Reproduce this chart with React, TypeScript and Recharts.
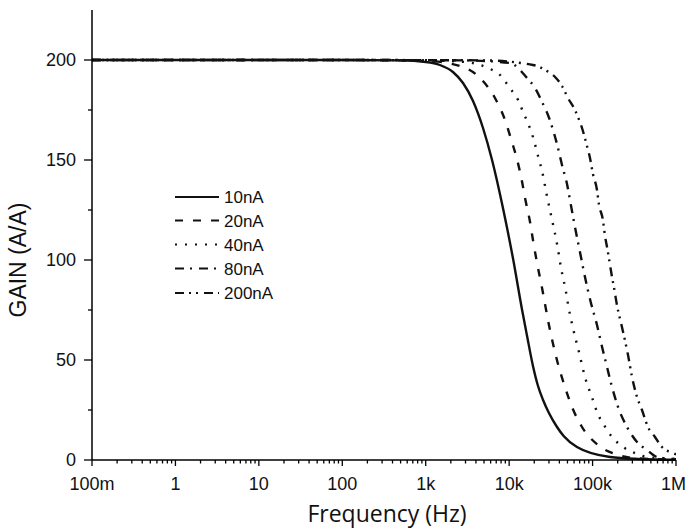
import { LineChart, Line, XAxis, YAxis } from 'recharts';

// frequency in Hz, gain in A/A
const freq10 = [0.1, 10, 100, 500, 1000, 1480, 2120, 2800, 3690, 4860, 6240, 8430, 11100, 14300, 16400, 19300, 22000, 25500, 30000, 37500, 45000, 65000, 162000, 372000, 1000000];
const gain10 = [200, 200, 200, 199.8, 199, 197.5, 194, 188.5, 179.5, 166, 150, 126, 101, 75, 62, 47, 37.5, 30, 23.5, 16.5, 12, 6.5, 1.5, 0.5, 0.1];

const freq20 = [0.1, 100, 1000, 2580, 4730, 6760, 8920, 10800, 12400, 14300, 15500, 17800, 19300, 21600, 24800, 26900, 29200, 33600, 38500, 46700, 56700, 74700, 116000, 202000, 305000, 1000000];
const gain20 = [200, 200, 199.6, 197, 190, 181, 170, 159, 150.5, 139, 131, 119, 110, 98.5, 86, 78, 70, 58, 48, 36.5, 26.5, 16.5, 7.5, 2.5, 1, 0.2];

const freq40 = [0.1, 100, 1000, 3000, 5580, 7770, 10200, 12800, 14700, 16800, 19300, 22200, 24800, 28400, 32700, 37500, 41900, 48000, 50700, 58200, 68700, 81100, 101000, 113000, 137000, 171000, 232000, 341000, 449000, 1000000];
const gain40 = [200, 200, 199.8, 199, 196, 192.5, 186, 180, 174, 168.5, 161.5, 152, 144.5, 132, 120, 108, 96, 84, 78, 66, 54, 41.5, 30, 24, 17.5, 11.5, 6.5, 3, 1.5, 0.5];

const freq80 = [0.1, 100, 3000, 10200, 16400, 20400, 24800, 29200, 33600, 38500, 43000, 49400, 53600, 61500, 70600, 81100, 95000, 113000, 130000, 149000, 171000, 202000, 259000, 341000, 449000, 592000, 920000, 1000000];
const gain80 = [200, 200, 199.8, 198.5, 191, 186, 179, 172.5, 165, 156, 147.5, 138, 130, 116.5, 104, 91.5, 79, 67.5, 56.5, 46.5, 36.5, 26.5, 16.5, 9, 5, 1.5, 0.5, 0.4];

const freq200 = [0.1, 100, 5000, 19300, 28400, 35500, 43000, 50700, 61500, 66800, 74700, 85700, 93100, 101000, 113000, 119000, 133000, 141000, 149000, 157000, 171000, 181000, 196000, 225000, 266000, 297000, 341000, 391000, 461000, 560000, 679000, 920000, 1000000];
const gain200 = [200, 200, 199.8, 197.5, 194.5, 191.5, 187, 181, 175, 171.5, 166, 157, 151, 143, 135, 128, 120, 112, 106.5, 101, 91.5, 86, 77.5, 66.5, 52.5, 41.5, 31.5, 25, 16.5, 11.5, 6.5, 3.5, 2.8];

const seriesNames = ['10nA', '20nA', '40nA', '80nA', '200nA'];
const seriesDash = ['', '8 10', '2 8', '9 6 2 7', '9 5 2 5 2 6'];

const xMajor = [0.1, 1, 10, 100, 1000, 10000, 100000, 1000000];
const xLabels = ['100m', '1', '10', '100', '1k', '10k', '100k', '1M'];
const xMinorSteps = [2, 3, 4, 5, 6, 7, 8, 9];
const yTicks = [0, 25, 50, 75, 100, 125, 150, 175, 200];
const yLabelled = [0, 50, 100, 150, 200];

const zip = (f: number[], g: number[]) => f.map((v, i) => ({ f: v, g: g[i] }));
const seriesData = [
  zip(freq10, gain10),
  zip(freq20, gain20),
  zip(freq40, gain40),
  zip(freq80, gain80),
  zip(freq200, gain200),
];

const xTicks = [
  ...xMajor,
  ...xMajor.slice(0, -1).flatMap((d) => xMinorSteps.map((m) => d * m)),
].sort((a, b) => a - b);

const TICK_FONT = '"Liberation Sans", Arial, sans-serif';

const XTick = (props: any) => {
  const { x, y, payload } = props;
  const axisY = y - 17;
  const idx = xMajor.findIndex((v) => Math.abs(v - payload.value) / v < 1e-6);
  const major = idx >= 0;
  const last = idx === xMajor.length - 1;
  return (
    <g>
      <line x1={x} x2={x} y1={axisY} y2={axisY + (major ? 6 : 3.5)} stroke="#000" strokeWidth={1.3} />
      {major && (
        <text
          x={last ? 686 : x}
          y={y}
          dy="0.71em"
          textAnchor={last ? 'end' : 'middle'}
          fontSize={18}
          fontFamily={TICK_FONT}
          fill="#111"
        >
          {xLabels[idx]}
        </text>
      )}
    </g>
  );
};

const YTick = (props: any) => {
  const { x, y, payload } = props;
  const axisX = x + 16;
  const major = yLabelled.includes(payload.value);
  return (
    <g>
      <line x1={axisX} x2={axisX - (major ? 8 : 4)} y1={y} y2={y} stroke="#000" strokeWidth={1.3} />
      {major && (
        <text x={x} y={y} dy="0.355em" textAnchor="end" fontSize={18} fontFamily={TICK_FONT} fill="#111">
          {payload.value}
        </text>
      )}
    </g>
  );
};

const legendRows = [197, 220.5, 244.5, 268.5, 293];

const App = () => {
  return (
    <div style={{ position: 'absolute', left: 0, top: 0, background: '#fff' }}>
      <LineChart width={687} height={529} margin={{ top: 10, right: 11, bottom: 0, left: 0 }}>
        <XAxis
          dataKey="f"
          type="number"
          scale="log"
          domain={[0.1, 1000000]}
          allowDataOverflow
          ticks={xTicks}
          interval={0}
          height={69}
          tickSize={6}
          tickMargin={11}
          tickLine={false}
          tick={<XTick />}
          axisLine={{ stroke: '#000', strokeWidth: 1.5 }}
        />
        <YAxis
          type="number"
          domain={[0, 225]}
          ticks={yTicks}
          interval={0}
          width={92}
          tickSize={8}
          tickMargin={8}
          tickLine={false}
          tick={<YTick />}
          axisLine={{ stroke: '#000', strokeWidth: 1.5 }}
        />
        {seriesData.map((d, i) => (
          <Line
            key={seriesNames[i]}
            data={d}
            dataKey="g"
            name={seriesNames[i]}
            type="monotone"
            stroke="#111"
            strokeWidth={2.4}
            strokeDasharray={seriesDash[i] || undefined}
            dot={false}
            isAnimationActive={false}
          />
        ))}
        <g>
          {seriesNames.map((n, i) => (
            <g key={n}>
              <line x1={175} x2={219} y1={legendRows[i]} y2={legendRows[i]} stroke="#111" strokeWidth={2.2} strokeDasharray={seriesDash[i] || undefined} />
              <text x={224} y={legendRows[i]} dy="0.355em" fontSize={17} fontFamily={TICK_FONT} fill="#111">
                {n}
              </text>
            </g>
          ))}
        </g>
        <text x={18} y={260} transform="rotate(-90 18 260)" textAnchor="middle" dy="0.355em" fontSize={23} fontFamily={TICK_FONT} fill="#111">
          GAIN (A/A)
        </text>
        <text x={387} y={514} textAnchor="middle" dy="0.355em" fontSize={23} fontFamily='"Open Sans", sans-serif' fill="#111">
          Frequency (Hz)
        </text>
      </LineChart>
    </div>
  );
};

export default App;
